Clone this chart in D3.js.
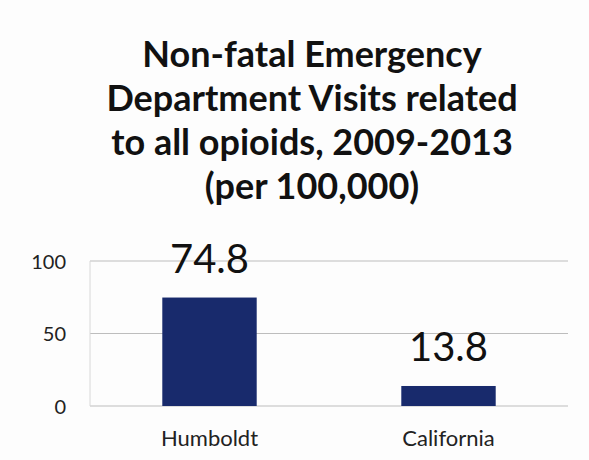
<!DOCTYPE html>
<html><head><meta charset="utf-8">
<script src="https://cdn.jsdelivr.net/npm/d3@7"></script>
<style>html,body{margin:0;padding:0;background:#fff;}svg{display:block;}</style>
</head><body>
<script>
const titleLines = ["Non-fatal Emergency", "Department Visits related", "to all opioids, 2009-2013", "(per 100,000)"];
const categories = ["Humboldt", "California"];
const values = [74.8, 13.8];
const yTicks = [0, 50, 100];

const W = 589, H = 460;
const svg = d3.select("body").append("svg").attr("width", W).attr("height", H);
svg.append("rect").attr("width", W).attr("height", H).attr("fill", "#fdfdfd");

const font = "Lato, 'Noto Sans', sans-serif";
const x = d3.scaleBand().domain(categories).range([90, 568]).paddingInner(0.605).paddingOuter(0.3025);
const y = d3.scaleLinear().domain([0, 100]).range([406, 261]);

// title
svg.append("g").selectAll("text").data(titleLines).join("text")
  .attr("x", 312).attr("y", (d, i) => 67 + i * 44)
  .attr("text-anchor", "middle").attr("font-family", font).attr("font-weight", "bold")
  .attr("font-size", 36).attr("fill", "#111").text(d => d);

// gridlines
svg.append("g").selectAll("line").data(yTicks).join("line")
  .attr("x1", 90).attr("x2", 568).attr("y1", d => y(d)).attr("y2", d => y(d))
  .attr("stroke", "#bdbdbd").attr("stroke-width", 1);
svg.append("line").attr("x1", 90).attr("x2", 90).attr("y1", y(100)).attr("y2", y(0))
  .attr("stroke", "#d8d8d8").attr("stroke-width", 1);

// y axis labels
const yAxis = d3.axisLeft(y).tickValues(yTicks).tickSize(0).tickPadding(0);
const ga = svg.append("g").attr("transform", "translate(66,0)").call(yAxis);
ga.select(".domain").remove();
ga.selectAll("text").attr("font-family", font).attr("font-size", 20).attr("fill", "#222").attr("dy", "0.35em");

// bars
svg.append("g").selectAll("rect").data(values).join("rect")
  .attr("x", (d, i) => x(categories[i])).attr("width", x.bandwidth())
  .attr("y", d => y(d)).attr("height", d => y(0) - y(d))
  .attr("fill", "#182a6c");

// value labels
svg.append("g").selectAll("text").data(values).join("text")
  .attr("x", (d, i) => x(categories[i]) + x.bandwidth() / 2)
  .attr("y", d => y(d) - 25)
  .attr("text-anchor", "middle").attr("font-family", font).attr("font-size", 40)
  .attr("fill", "#111").text(d => d.toFixed(1));

// category labels
const xAxis = d3.axisBottom(x).tickSize(0).tickPadding(0);
const gx = svg.append("g").attr("transform", "translate(0,446)").call(xAxis);
gx.select(".domain").remove();
gx.selectAll("text").attr("font-family", font).attr("font-size", 22).attr("fill", "#222").attr("dy", 0);
</script>
</body></html>
